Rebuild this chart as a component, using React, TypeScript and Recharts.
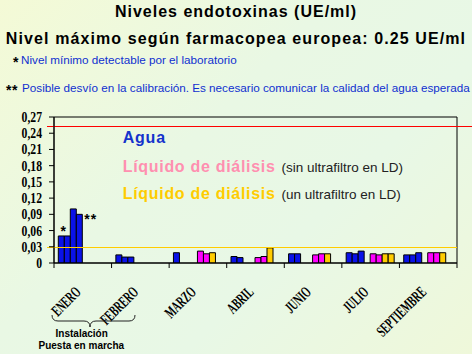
import React from 'react';
import { BarChart, Bar, XAxis, YAxis, ReferenceLine, ReferenceArea, LabelList } from 'recharts';

// Categories (months)
const months = ['ENERO', 'FEBRERO', 'MARZO', 'ABRIL', 'JUNIO', 'JULIO', 'SEPTIEMBRE'];

// Agua (blue) samples per month
const agua1 = [0.05, 0.015, 0.019, 0.012, 0.017, 0.019, 0.015];
const agua2 = [0.05, 0.011, null, 0.01, 0.017, 0.017, 0.015];
const agua3 = [0.1, 0.011, null, null, null, 0.022, 0.019];
const agua4 = [0.09, null, null, null, null, null, null];

// Líquido de diálisis sin ultrafiltro en LD (pink)
const sinUF1 = [null, null, 0.022, 0.01, 0.015, 0.017, 0.019];
const sinUF2 = [null, null, 0.017, 0.012, 0.017, 0.015, 0.019];

// Líquido de diálisis con un ultrafiltro en LD (yellow)
const unUF1 = [null, null, 0.019, 0.028, 0.017, 0.017, 0.019];
const unUF2 = [null, null, null, null, null, 0.017, null];

// Axis ticks and reference levels
const yTicks = [0, 0.03, 0.06, 0.09, 0.12, 0.15, 0.18, 0.21, 0.24, 0.27];
const maxLevel = 0.254;
const minDetectable = 0.03;

const data = months.map((m, i) => ({
  month: m,
  agua1: agua1[i],
  agua2: agua2[i],
  agua3: agua3[i],
  agua4: agua4[i],
  sinUF1: sinUF1[i],
  sinUF2: sinUF2[i],
  unUF1: unUF1[i],
  unUF2: unUF2[i],
}));

const BLUE = '#0A12E8';
const PINK = '#FF00FF';
const YELLOW = '#FFCC00';
const serif = "'Liberation Serif', 'Times New Roman', serif";
const sans = "'Liberation Sans', Arial, sans-serif";

const fmt = (v: number) => (v === 0 ? '0' : v.toFixed(2).replace('.', ','));

const YTick = (props: any) => {
  const { x, y, payload } = props;
  return (
    <text
      transform={`translate(${x},${y}) scale(0.78,1)`}
      textAnchor="end"
      dy={5}
      fontFamily={serif}
      fontWeight="bold"
      fontSize={15}
      fill="#000"
    >
      {fmt(payload.value)}
    </text>
  );
};

const XTick = (props: any) => {
  const { x, y, payload, index } = props;
  const half = payload && payload.offset ? payload.offset : 0;
  return (
    <g>
      <line x1={x - half} y1={y} x2={x - half} y2={y + 5} stroke="#000" strokeWidth={1} />
      {index === months.length - 1 && (
        <line x1={x + half} y1={y} x2={x + half} y2={y + 5} stroke="#000" strokeWidth={1} />
      )}
      <text
        transform={`translate(${x - 1},${y + 30}) rotate(-45) scale(0.64,1.05)`}
        textAnchor="end"
        fontFamily={serif}
        fontWeight="bold"
        fontSize={15}
        fill="#000"
      >
        {payload.value}
      </text>
    </g>
  );
};

const extendedLine = (left: number, right: number, color: string, w: number) => (p: any) => (
  <line
    x1={p.x1 - left}
    y1={Math.round(p.y1) + 0.5}
    x2={p.x2 + right}
    y2={Math.round(p.y2) + 0.5}
    stroke={color}
    strokeWidth={w}
    shapeRendering="crispEdges"
  />
);

const starLabel = (text: string, first: boolean) => (p: any) => {
  const { x, y, width, index } = p;
  if (index !== 0) return null;
  return first ? (
    <text x={x + width - 1} y={y} textAnchor="middle" fontFamily={sans} fontWeight="bold" fontSize={14} fill="#000">
      {text}
    </text>
  ) : (
    <text x={x + width + 2} y={y + 10} textAnchor="start" fontFamily={sans} fontWeight="bold" fontSize={14} letterSpacing={1} fill="#000">
      {text}
    </text>
  );
};

export default function App() {
  const barCommon = { stroke: '#000', strokeWidth: 1, isAnimationActive: false };
  return (
    <div
      style={{
        position: 'absolute',
        left: 0,
        top: 0,
        width: 472,
        height: 354,
        overflow: 'hidden',
        background: 'linear-gradient(135deg, #F4FAD6 0%, #E9F8E4 40%, #E8F8E6 65%, #EFF8DA 100%)',
      }}
    >
      <BarChart
        width={472}
        height={354}
        data={data}
        margin={{ top: 117, right: 15, bottom: 0, left: 0 }}
        barCategoryGap={4.3}
        barGap={0}
        style={{ position: 'absolute', left: 0, top: 0 }}
      >
        <ReferenceArea y1={0} y2={0.27} fill="none" stroke="#000" strokeWidth={1} ifOverflow="visible" />
        <XAxis
          dataKey="month"
          height={91}
          interval={0}
          tickLine={false}
          tickSize={0}
          tickMargin={0}
          axisLine={{ stroke: '#000' }}
          tick={<XTick />}
        />
        <YAxis
          width={54}
          domain={[0, 0.27]}
          ticks={yTicks}
          interval={0}
          tickSize={5}
          tickMargin={7}
          axisLine={{ stroke: '#000' }}
          tickLine={{ stroke: '#000' }}
          tick={<YTick />}
          allowDataOverflow
        />
        <Bar dataKey="agua1" fill={BLUE} {...barCommon}>
          <LabelList dataKey="agua1" content={starLabel('*', true)} />
        </Bar>
        <Bar dataKey="agua2" fill={BLUE} {...barCommon} />
        <Bar dataKey="agua3" fill={BLUE} {...barCommon} />
        <Bar dataKey="agua4" fill={BLUE} {...barCommon}>
          <LabelList dataKey="agua4" content={starLabel('**', false)} />
        </Bar>
        <Bar dataKey="sinUF1" fill={PINK} {...barCommon} />
        <Bar dataKey="sinUF2" fill={PINK} {...barCommon} />
        <Bar dataKey="unUF1" fill={YELLOW} {...barCommon} />
        <Bar dataKey="unUF2" fill={YELLOW} {...barCommon} />
        <ReferenceLine y={maxLevel} shape={extendedLine(7, 15, '#FF0000', 1.5)} />
        <ReferenceLine y={minDetectable} shape={extendedLine(7, 0, YELLOW, 1.5)} />
      </BarChart>
      <svg width={472} height={354} style={{ position: 'absolute', left: 0, top: 0, pointerEvents: 'none' }}>
        <text x={236} y={17.3} textAnchor="middle" fontFamily={sans} fontWeight="bold" fontSize={16} letterSpacing={1} fill="#000">
          Niveles endotoxinas (UE/ml)
        </text>
        <text x={236} y={44.3} textAnchor="middle" fontFamily={sans} fontWeight="bold" fontSize={16} letterSpacing={1.1} fill="#000">
          Nivel máximo según farmacopea europea: 0.25 UE/ml
        </text>
        <text x={13} y={67} fontFamily={sans} fontWeight="bold" fontSize={14} fill="#000">*</text>
        <text x={21} y={64} fontFamily={sans} fontSize={11.7} fill="#1030D0">
          Nivel mínimo detectable por el laboratorio
        </text>
        <text x={6} y={95} fontFamily={sans} fontWeight="bold" fontSize={14} letterSpacing={0.5} fill="#000">**</text>
        <text x={22} y={91.7} fontFamily={sans} fontSize={11.7} fill="#1030D0">
          Posible desvío en la calibración. Es necesario comunicar la calidad del agua esperada
        </text>

        <text x={122.7} y={142.7} fontFamily={sans} fontWeight="bold" fontSize={16} letterSpacing={0.8} fill="#1433CC">
          Agua
        </text>
        <text x={122.7} y={171.7} fontFamily={sans} fontWeight="bold" fontSize={16} letterSpacing={0.7} fill="#FF8FB0">
          Líquido de diálisis
          <tspan fontWeight="normal" fontSize={13.5} letterSpacing={0} fill="#222" dx={6}>(sin ultrafiltro en LD)</tspan>
        </text>
        <text x={122.7} y={199.3} fontFamily={sans} fontWeight="bold" fontSize={16} letterSpacing={0.7} fill="#FFCC00">
          Líquido de diálisis
          <tspan fontWeight="normal" fontSize={13.5} letterSpacing={0} fill="#222" dx={6}>(un ultrafiltro en LD)</tspan>
        </text>

        <path
          d="M52,315 Q52,321 58,321 L84,321 Q90,321 90,327 Q90,321 96,321 L129,321 Q135,321 135,315"
          fill="none"
          stroke="#222"
          strokeWidth={1}
        />
        <text x={81.7} y={337} textAnchor="middle" fontFamily={sans} fontWeight="bold" fontSize={10} fill="#000">
          Instalación
        </text>
        <text x={81.3} y={349} textAnchor="middle" fontFamily={sans} fontWeight="bold" fontSize={10} fill="#000">
          Puesta en marcha
        </text>
      </svg>
    </div>
  );
}
